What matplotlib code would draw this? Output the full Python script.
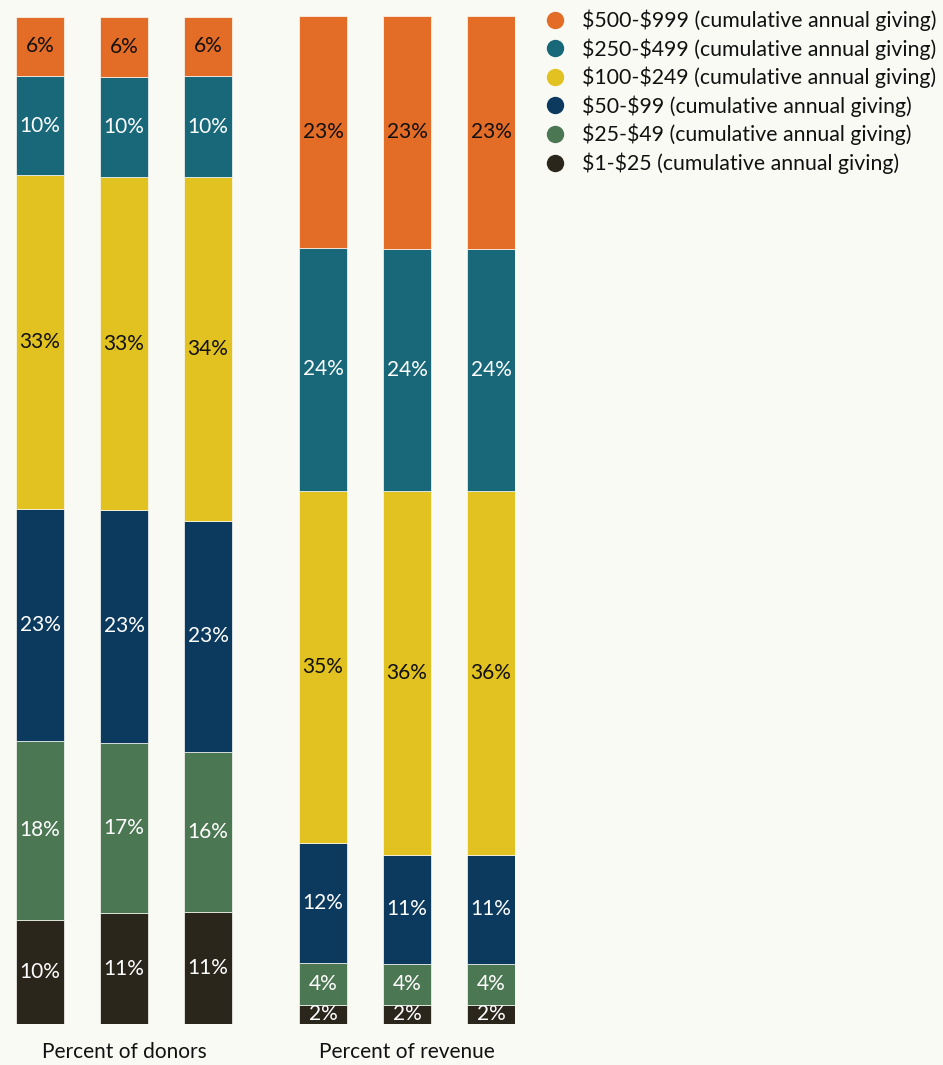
import numpy as np
import matplotlib.pyplot as plt
from matplotlib.lines import Line2D

plt.rcParams['font.family'] = ['Lato', 'DejaVu Sans']

# stacking order bottom -> top
tiers = [r"\$1-\$25", r"\$25-\$49", r"\$50-\$99", r"\$100-\$249", r"\$250-\$499", r"\$500-\$999"]
colors = ["#2a261c", "#4b7752", "#0c3a5e", "#e2c221", "#18687a", "#e36c26"]
txtcol = ["white", "white", "white", "#111111", "white", "#111111"]

# percent shares per bar (3 donor bars, 3 revenue bars)
donors = np.array([
    [10.3, 17.8, 23.0, 33.1, 9.8, 5.95],
    [11.0, 16.9, 23.1, 33.0, 9.9, 6.05],
    [11.1, 15.9, 22.9, 34.1, 10.0, 5.95],
])
revenue = np.array([
    [1.9, 4.2, 11.9, 34.9, 24.1, 23.0],
    [1.9, 4.1, 10.8, 36.1, 24.0, 23.1],
    [1.9, 4.1, 10.8, 36.1, 24.0, 23.1],
])
labels_donors = [
    ["10%", "18%", "23%", "33%", "10%", "6%"],
    ["11%", "17%", "23%", "33%", "10%", "6%"],
    ["11%", "16%", "23%", "34%", "10%", "6%"],
]
labels_revenue = [
    ["2%", "4%", "12%", "35%", "24%", "23%"],
    ["2%", "4%", "11%", "36%", "24%", "23%"],
    ["2%", "4%", "11%", "36%", "24%", "23%"],
]
groups = ["Percent of donors", "Percent of revenue"]

data = np.vstack([donors, revenue])
labels = labels_donors + labels_revenue
xpos = np.array([0, 1, 2, 3.37, 4.37, 5.37])
width = 0.571

bg = "#fafaf5"
fig = plt.figure(figsize=(9.43, 10.65), dpi=100, facecolor=bg)
W, H = 943, 1065
ax = fig.add_axes([16 / W, (H - 1024) / H, (515 - 16) / W, 1008 / H])
ax.set_facecolor(bg)

bottom = np.zeros(len(xpos))
for k in range(len(tiers)):
    vals = data[:, k]
    ax.bar(xpos, vals, width, bottom=bottom, color=colors[k],
           edgecolor=bg, linewidth=0.5)
    for i in range(len(xpos)):
        ax.text(xpos[i], bottom[i] + vals[i] / 2, labels[i][k],
                ha="center", va="center", color=txtcol[k], fontsize=15)
    bottom += vals

ax.set_xlim(xpos[0] - width / 2, xpos[-1] + width / 2)
ax.set_ylim(0, bottom.max())
ax.axis("off")

for g, xs in zip(groups, [xpos[:3], xpos[3:]]):
    ax.text(xs.mean(), -0.028, g, transform=ax.get_xaxis_transform(),
            ha="center", va="center", fontsize=15, color="#111111")

handles = [Line2D([], [], marker="o", linestyle="none", markersize=11.5,
                  markerfacecolor=colors[k], markeredgecolor=colors[k])
           for k in range(len(tiers) - 1, -1, -1)]
leg_labels = [t + " (cumulative annual giving)" for t in tiers[::-1]]
fig.legend(handles, leg_labels, loc="upper left",
           bbox_to_anchor=(529 / W, 1 + 5 / H), frameon=False,
           fontsize=15.3, handletextpad=0.8, labelspacing=0.33,
           handlelength=1.0, borderpad=0.2, labelcolor="#111111")

fig.savefig("out.png", dpi=100, facecolor=bg)
